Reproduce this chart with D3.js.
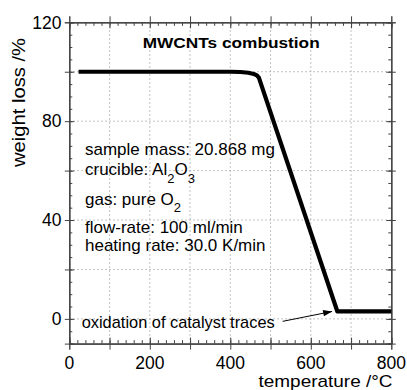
<!DOCTYPE html>
<html><head><meta charset="utf-8">
<script src="https://cdn.jsdelivr.net/npm/d3@7"></script>
<style>
body{margin:0;background:#fff}
text{font-family:"Liberation Sans",Arial,Helvetica,sans-serif;fill:#000}
</style>
</head><body>
<svg id="c" width="407" height="390"></svg>
<script>
// data
const temperature = [23, 100, 200, 300, 400, 425, 445, 458, 466, 471, 666, 700, 800];
const weightLoss  = [100, 100, 100, 100, 100, 99.9, 99.6, 99.1, 98.5, 97.6, 3.0, 3.0, 3.0];
const xTickLabels = [0, 200, 400, 600, 800];
const yTickLabels = [0, 40, 80, 120];
const xMajorTicks = [0, 100, 200, 300, 400, 500, 600, 700, 800];
const yMajorTicks = [0, 20, 40, 60, 80, 100, 120];
const xGrid = [100, 200, 300, 400, 500, 600, 700];
const yGrid = [0, 20, 40, 60, 80, 100];
const title = "MWCNTs combustion";
const xTitle = "temperature /°C";
const yTitle = "weight loss /%";
const annotationText = "oxidation of catalyst traces";
const annotationFrom = [530, -1];
const annotationTo = [653, 3];

const svg = d3.select("#c");
const L = 69.3, R = 391.3, T = 22.3, B = 343.6;
const x = d3.scaleLinear().domain([0, 800]).range([L, R]);
const y = d3.scaleLinear().domain([-10, 120]).range([B, T]);

// grid
const g = svg.append("g");
g.selectAll("line.gx").data(xGrid).join("line")
  .attr("x1", d => x(d)).attr("x2", d => x(d)).attr("y1", T).attr("y2", B)
  .attr("stroke", "#9a9a9a").attr("stroke-width", 0.8).attr("stroke-dasharray", "1.5,2.5");
g.selectAll("line.gy").data(yGrid).join("line")
  .attr("y1", d => y(d)).attr("y2", d => y(d)).attr("x1", L).attr("x2", R)
  .attr("stroke", "#9a9a9a").attr("stroke-width", 0.8).attr("stroke-dasharray", "1.5,2.5");

function styleAxis(sel) {
  sel.selectAll("path").attr("stroke", "#444").attr("stroke-width", 1);
  sel.selectAll("line").attr("stroke", "#444").attr("stroke-width", 1);
  sel.selectAll("text").remove();
}
// minor ticks inward
svg.append("g").attr("transform", `translate(0,${B})`)
  .call(d3.axisBottom(x).ticks(40).tickSize(-3.5).tickFormat("")).call(styleAxis);
svg.append("g").attr("transform", `translate(0,${T})`)
  .call(d3.axisTop(x).ticks(40).tickSize(-3.5).tickFormat("")).call(styleAxis);
svg.append("g").attr("transform", `translate(${L},0)`)
  .call(d3.axisLeft(y).ticks(26).tickSize(-3).tickFormat("")).call(styleAxis);
svg.append("g").attr("transform", `translate(${R},0)`)
  .call(d3.axisRight(y).ticks(26).tickSize(-3).tickFormat("")).call(styleAxis);
// major ticks crossing (outward + inward)
[6, -6].forEach(s => {
  svg.append("g").attr("transform", `translate(0,${B})`)
    .call(d3.axisBottom(x).tickValues(xMajorTicks).tickSize(s).tickFormat("")).call(styleAxis);
  svg.append("g").attr("transform", `translate(0,${T})`)
    .call(d3.axisTop(x).tickValues(xMajorTicks).tickSize(s).tickFormat("")).call(styleAxis);
  svg.append("g").attr("transform", `translate(${L},0)`)
    .call(d3.axisLeft(y).tickValues(yMajorTicks).tickSize(s > 0 ? 4.5 : -5).tickFormat("")).call(styleAxis);
  svg.append("g").attr("transform", `translate(${R},0)`)
    .call(d3.axisRight(y).tickValues(yMajorTicks).tickSize(s > 0 ? 4.5 : -5).tickFormat("")).call(styleAxis);
});

// tick labels
svg.append("g").selectAll("text").data(xTickLabels).join("text")
  .attr("x", d => x(d)).attr("y", 368.5).attr("text-anchor", "middle")
  .attr("font-size", 17.5).text(d => d);
svg.append("g").selectAll("text").data(yTickLabels).join("text")
  .attr("x", 61.5).attr("y", d => y(d) + 6.2).attr("text-anchor", "end")
  .attr("font-size", 17.5).text(d => d);

// axis titles
svg.append("text").attr("x", 392.5).attr("y", 387).attr("text-anchor", "end")
  .attr("font-size", 17).attr("textLength", 134).attr("lengthAdjust", "spacingAndGlyphs").text(xTitle);
svg.append("text").attr("transform", "translate(25,167) rotate(-90)")
  .attr("font-size", 17.5).attr("textLength", 129).attr("lengthAdjust", "spacingAndGlyphs").text(yTitle);

// curve
const pts = temperature.map((t, i) => [t, weightLoss[i]]);
svg.append("path").datum(pts)
  .attr("d", d3.line().x(d => x(d[0])).y(d => y(d[1])))
  .attr("fill", "none").attr("stroke", "#000").attr("stroke-width", 4.2)
  .attr("stroke-linejoin", "round");

// title
svg.append("text").attr("x", 142.7).attr("y", 48.3).attr("font-weight", "bold")
  .attr("font-size", 15.5).attr("textLength", 177).attr("lengthAdjust", "spacingAndGlyphs").text(title);

// info block
const FS = 17, SUB = 13;
const info = svg.append("g");
function addLine(parts, yy) {
  const t = info.append("text").attr("x", 85).attr("y", yy).attr("font-size", FS);
  parts.forEach(p => {
    if (typeof p === "string") t.append("tspan").text(p);
    else t.append("tspan").attr("dy", p.dy).attr("font-size", p.sub ? SUB : FS).text(p.s);
  });
}
addLine(["sample mass: 20.868 mg"], 155);
addLine(["crucible: Al", {s: "2", dy: 8, sub: true}, {s: "O", dy: -8}, {s: "3", dy: 8, sub: true}], 174.5);
addLine(["gas: pure O", {s: "2", dy: 7, sub: true}], 205);
addLine(["flow-rate: 100 ml/min"], 233);
addLine(["heating rate: 30.0 K/min"], 251);

// annotation
svg.append("text").attr("x", 81.7).attr("y", 327.7).attr("font-size", FS)
  .attr("textLength", 193).attr("lengthAdjust", "spacingAndGlyphs").text(annotationText);
const ax1 = x(annotationFrom[0]), ay1 = y(annotationFrom[1]);
const ax2 = x(annotationTo[0]), ay2 = y(annotationTo[1]);
svg.append("line").attr("x1", ax1).attr("y1", ay1).attr("x2", ax2).attr("y2", ay2)
  .attr("stroke", "#000").attr("stroke-width", 1);
const ang = Math.atan2(ay2 - ay1, ax2 - ax1);
const hl = 9, hw = 3.2;
const bx = ax2 - hl * Math.cos(ang), by = ay2 - hl * Math.sin(ang);
svg.append("path")
  .attr("d", `M${ax2},${ay2}L${bx - hw * Math.sin(ang)},${by + hw * Math.cos(ang)}L${bx + hw * Math.sin(ang)},${by - hw * Math.cos(ang)}Z`)
  .attr("fill", "#000");
</script>
</body></html>
